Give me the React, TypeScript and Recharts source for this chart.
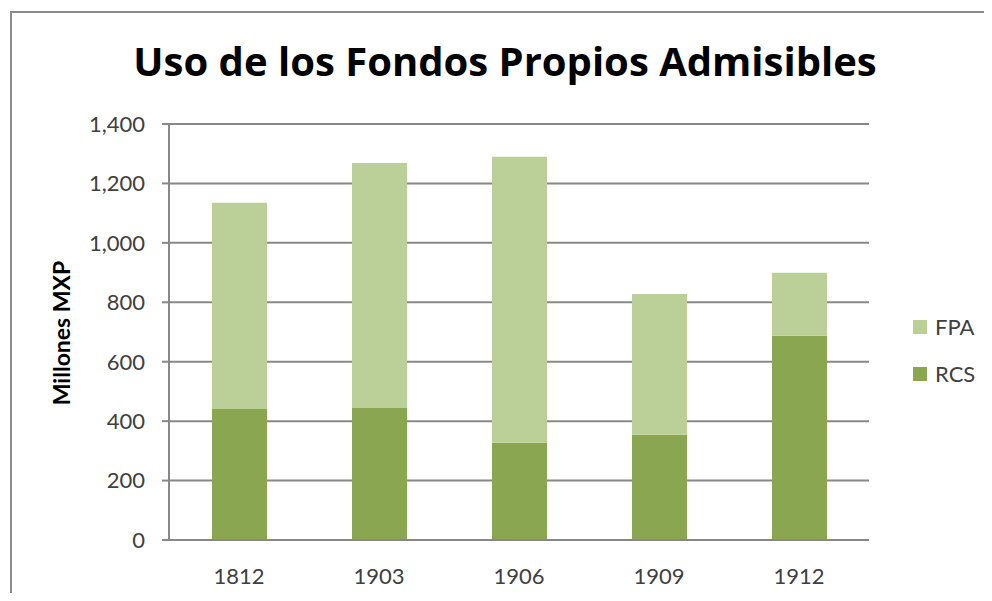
import React from "react";
import { BarChart, Bar, XAxis, YAxis, CartesianGrid, Legend } from "recharts";

// values (millones MXP)
const categories = ["1812", "1903", "1906", "1909", "1912"];
const rcs = [441, 444, 327, 354, 687];
const fpa = [694, 825, 963, 474, 212];
const yTicks = [0, 200, 400, 600, 800, 1000, 1200, 1400];

const data = categories.map((c, i) => ({ name: c, RCS: rcs[i], FPA: fpa[i] }));

const font = "Lato, 'Open Sans', sans-serif";
const grid = "#888888";
const darkGreen = "#8aa650";
const lightGreen = "#bbcf99";

const fmt = (v: number) => v.toLocaleString("en-US");

const LegendBox = () => {
  const items = [
    { label: "FPA", color: lightGreen },
    { label: "RCS", color: darkGreen },
  ];
  return (
    <div style={{ fontFamily: font, fontSize: 22, color: "#404040" }}>
      {items.map((it) => (
        <div key={it.label} style={{ display: "flex", alignItems: "center", height: 47 }}>
          <span style={{ display: "inline-block", width: 14, height: 14, background: it.color, marginRight: 8 }} />
          {it.label}
        </div>
      ))}
    </div>
  );
};

export default function App() {
  return (
    <div
      style={{
        position: "relative",
        marginLeft: 2,
        marginTop: 3,
        width: 980,
        height: 580,
        borderTop: "2px solid #8c8c8c",
        borderLeft: "2px solid #8c8c8c",
        background: "#fff",
      }}
    >
      <div
        style={{
          position: "absolute",
          top: 28,
          left: 0,
          width: 986,
          textAlign: "center",
          fontFamily: "'Open Sans', Lato, sans-serif",
          fontWeight: 700,
          fontSize: 40,
          lineHeight: "40px",
          color: "#000",
        }}
      >
        Uso de los Fondos Propios Admisibles
      </div>
      <div
        style={{
          position: "absolute",
          left: 49,
          top: 320,
          transform: "translate(-50%, -50%) rotate(-90deg)",
          whiteSpace: "nowrap",
          fontFamily: font,
          fontWeight: 700,
          fontSize: 23,
          color: "#000",
        }}
      >
        Millones MXP
      </div>
      <BarChart
        width={980}
        height={580}
        data={data}
        margin={{ top: 111, right: 43, left: 0, bottom: 0 }}
      >
        <CartesianGrid vertical={false} stroke={grid} strokeWidth={2} />
        <XAxis
          dataKey="name"
          height={53}
          axisLine={{ stroke: grid, strokeWidth: 2 }}
          tickLine={false}
          tickSize={6}
          tickMargin={22}
          tick={{ fontFamily: font, fontSize: 22, fill: "#404040" }}
        />
        <YAxis
          width={157}
          domain={[0, 1400]}
          ticks={yTicks}
          interval={0}
          tickFormatter={fmt}
          axisLine={{ stroke: grid, strokeWidth: 2 }}
          tickLine={{ stroke: grid, strokeWidth: 2 }}
          tickSize={7}
          tickMargin={17}
          tick={{ fontFamily: font, fontSize: 22, fill: "#404040" }}
        />
        <Legend
          layout="vertical"
          align="right"
          verticalAlign="top"
          content={() => <LegendBox />}
          wrapperStyle={{ left: 901, top: 290, width: 80 }}
        />
        <Bar dataKey="RCS" stackId="a" fill={darkGreen} barSize={55} isAnimationActive={false} />
        <Bar dataKey="FPA" stackId="a" fill={lightGreen} barSize={55} isAnimationActive={false} />
      </BarChart>
    </div>
  );
}
